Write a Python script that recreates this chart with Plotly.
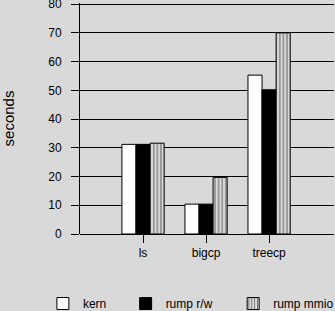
import plotly.graph_objects as go

# Benchmark timings (seconds) per workload
categories = ["ls", "bigcp", "treecp"]
kern = [31.2, 10.4, 55.3]
rump_rw = [31.2, 10.4, 50.2]
rump_mmio = [31.6, 19.7, 70.0]
series_names = ["kern", "rump r/w", "rump mmio"]

y_ticks = [0, 10, 20, 30, 40, 50, 60, 70, 80]

BG = "#d9d9d9"
FONT = "Liberation Sans, Arial, Helvetica, sans-serif"
positions = list(range(1, len(categories) + 1))

fig = go.Figure()
fig.add_trace(go.Bar(
    x=positions, y=kern, name=series_names[0], legend="legend",
    marker=dict(color="white", line=dict(color="black", width=1)),
))
fig.add_trace(go.Bar(
    x=positions, y=rump_rw, name=series_names[1], legend="legend2",
    marker=dict(color="black", line=dict(color="black", width=1)),
))
fig.add_trace(go.Bar(
    x=positions, y=rump_mmio, name=series_names[2], legend="legend3",
    marker=dict(
        color=BG, line=dict(color="black", width=1),
        pattern=dict(shape="|", fgcolor="black", bgcolor=BG, size=3.6, solidity=0.3),
    ),
))

# one legend per series, laid out in a row under the plot
legend_common = dict(
    orientation="h", yanchor="middle", xanchor="left",
    xref="container", yref="container", y=0.024,
    bgcolor="rgba(0,0,0,0)", font=dict(family=FONT, size=12, color="black"),
)

fig.update_layout(
    width=335, height=311,
    margin=dict(l=80, r=1, t=3, b=77, autoexpand=False),
    paper_bgcolor=BG, plot_bgcolor=BG,
    font=dict(family=FONT, size=12, color="black"),
    barmode="group", bargap=0.33, bargroupgap=0,
    showlegend=True,
    legend=dict(x=0.128, **legend_common),
    legend2=dict(x=0.375, **legend_common),
    legend3=dict(x=0.696, **legend_common),
    xaxis=dict(
        range=[0, 4.03], tickvals=positions, ticktext=categories,
        showgrid=False, zeroline=False, showline=False,
        ticks="outside", ticklen=8, tickwidth=1, tickcolor="black",
        tickfont=dict(size=12),
    ),
    yaxis=dict(
        range=[0, 80.4], tickvals=y_ticks,
        showgrid=True, gridcolor="black", gridwidth=1,
        zeroline=True, zerolinecolor="black", zerolinewidth=1,
        showline=True, linecolor="black", linewidth=1,
        ticks="outside", ticklen=8, tickwidth=1, tickcolor="black",
        ticklabelstandoff=7, ticklabeloverflow="allow",
        tickfont=dict(size=12),
        title=dict(text="seconds", font=dict(size=15), standoff=32),
    ),
)

fig.write_html("out.html")
